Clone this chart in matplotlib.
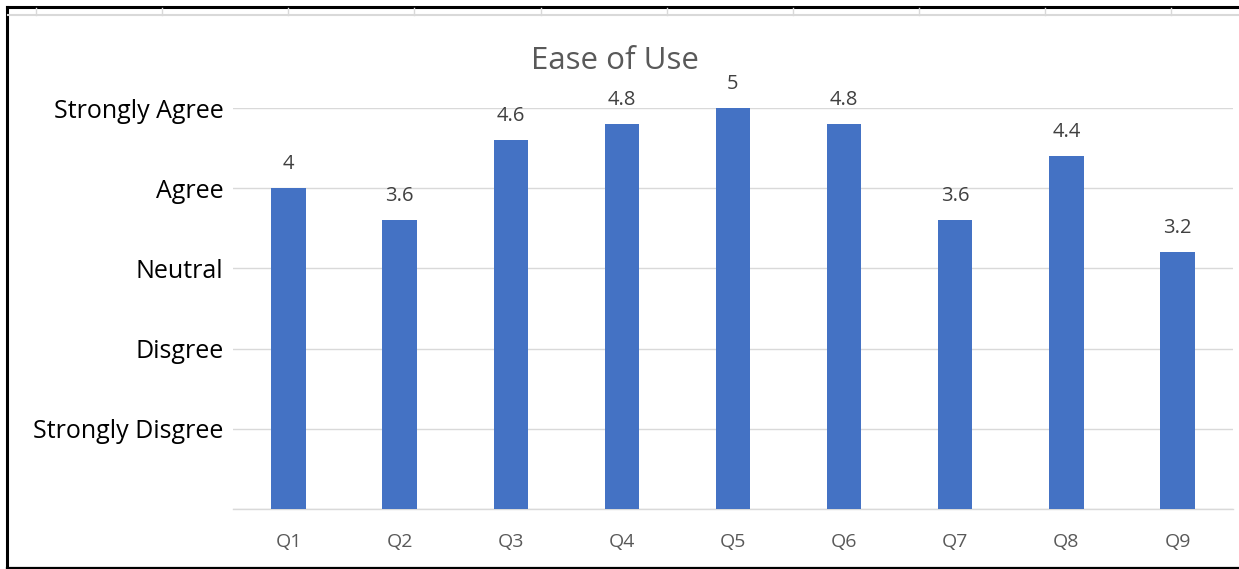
import matplotlib
matplotlib.use("Agg")
import matplotlib.pyplot as plt
from matplotlib.lines import Line2D

categories = ["Q1", "Q2", "Q3", "Q4", "Q5", "Q6", "Q7", "Q8", "Q9"]
values = [4, 3.6, 4.6, 4.8, 5, 4.8, 3.6, 4.4, 3.2]
ytick_values = [0, 1, 2, 3, 4, 5]
ytick_labels = ["", "Strongly Disgree", "Disgree", "Neutral", "Agree", "Strongly Agree"]
title = "Ease of Use"

plt.rcParams['font.family'] = ['Open Sans', 'DejaVu Sans']

W, H = 1239, 569
fig = plt.figure(figsize=(W / 100, H / 100), dpi=100)
fig.patch.set_facecolor("white")

left, right = 233, 1233
bottom, top = 509, 108
ax = fig.add_axes([left / W, 1 - bottom / H, (right - left) / W, (bottom - top) / H])

x = list(range(len(categories)))
ax.bar(x, values, width=0.31, color="#4472C4", zorder=3)
ax.set_xlim(-0.5, len(categories) - 0.5)
ax.set_ylim(0, 5)
ax.set_yticks(ytick_values)
ax.set_yticklabels(ytick_labels, fontsize=18, color="#000000")
ax.set_xticks(x)
ax.set_xticklabels(categories, fontsize=14, color="#595959")
ax.tick_params(axis="both", length=0)
ax.tick_params(axis="y", pad=7)
ax.tick_params(axis="x", pad=17)
ax.grid(axis="y", color="#D9D9D9", linewidth=1.0, zorder=0)
for s in ["top", "right", "left"]:
    ax.spines[s].set_visible(False)
ax.spines["bottom"].set_color("#D9D9D9")
ax.spines["bottom"].set_linewidth(1.0)

for xi, v in zip(x, values):
    ax.annotate(f"{v:g}", (xi, v), xytext=(0, 10), textcoords="offset points",
                ha="center", va="bottom", fontsize=14.5, color="#404040", clip_on=False)

fig.text(615 / W, 1 - 61 / H, title, ha="center", va="center", fontsize=22.5, color="#595959")

# frame and spreadsheet strip
def fx(px):
    return px / W

def fy(py):
    return 1 - py / H

fig.add_artist(Line2D([fx(7), fx(1239)], [fy(7), fy(7)], color="black", linewidth=2.2))
fig.add_artist(Line2D([fx(7), fx(7)], [fy(7), fy(568)], color="black", linewidth=2.2))
fig.add_artist(Line2D([fx(7), fx(1239)], [fy(567.5), fy(567.5)], color="black", linewidth=1.6))
fig.add_artist(Line2D([fx(8), fx(1239)], [fy(15), fy(15)], color="#D9D9D9", linewidth=1.5))
for gx in [36, 162, 288, 414, 541, 667, 793, 919, 1045, 1171]:
    fig.add_artist(Line2D([fx(gx), fx(gx)], [fy(8), fy(15)], color="#D9D9D9", linewidth=1.0))

fig.savefig("out.png", dpi=100)
